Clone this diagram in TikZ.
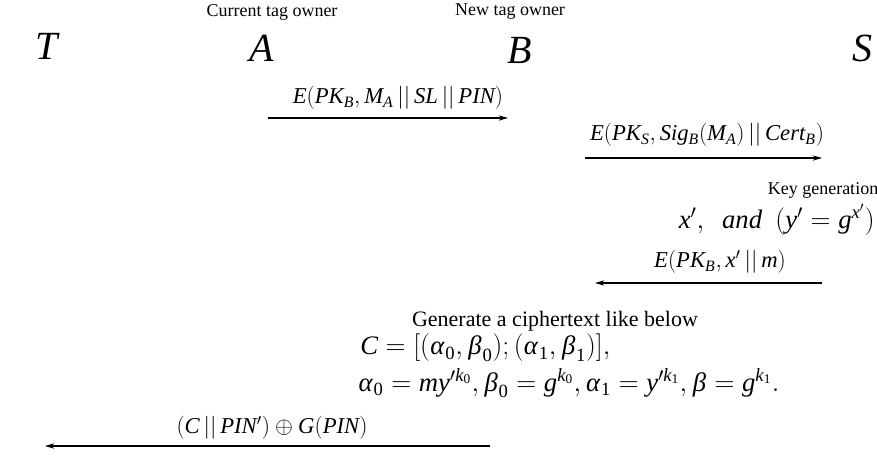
\documentclass[tikz,border=0pt]{standalone}
\usepackage{mathspec}
\setmainfont{Liberation Serif}
\setmathsfont(Digits,Latin,Greek){Liberation Serif}
\usetikzlibrary{arrows.meta}
\begin{document}
\begin{tikzpicture}[x=0.75pt,y=-0.75pt]
\tikzstyle{every node}+=[inner sep=0pt]
\tikzstyle{party}=[font=\fontsize{30}{36}\selectfont]
\tikzstyle{role}=[font=\fontsize{13.5}{16}\selectfont]
\tikzstyle{msg}=[font=\fontsize{17}{20}\selectfont]
\tikzstyle{formula}=[font=\fontsize{20}{24}\selectfont]
\tikzstyle{flow}=[black, line width=0.8pt, -{Stealth[length=7pt,width=4pt]}]
\useasboundingbox (0,0) rectangle (877,463);
% parties
\node [role] (curowner) at (272,12) {Current tag owner};
\node [role] (newowner) at (510,12) {New tag owner};
\node [party] (tag) at (47,46) {$T$};
\node [party] (ownA) at (262,48) {$A$};
\node [party] (ownB) at (520,50) {$B$};
\node [party] (srv) at (862,48) {$S$};
% A -> B
\coordinate (m1s) at (268,118);
\coordinate (m1e) at (508,118);
\draw [flow] (m1s) -- (m1e);
\node [msg] (m1lbl) at (398,98) {$E(PK_B, M_A\,||\,SL\,||\,PIN)$};
% B -> S
\coordinate (m2s) at (585,158);
\coordinate (m2e) at (822,158);
\draw [flow] (m2s) -- (m2e);
\node [msg] (m2lbl) at (707,135) {$E(PK_S, Sig_B(M_A)\,||\,Cert_B)$};
% key generation at S
\node [role] (keygen) at (823,190) {Key generation};
\node [formula, anchor=east] (keypair) at (875,220) {$x',\ \ and\ \ (y' = g^{x'})$};
% S -> B
\coordinate (m3s) at (822,283);
\coordinate (m3e) at (595,283);
\draw [flow] (m3s) -- (m3e);
\node [msg] (m3lbl) at (720,262) {$E(PK_B, x'\,||\,m)$};
% ciphertext at B
\node [font=\fontsize{16.5}{20}\selectfont] (gencipher) at (555,321) {Generate a ciphertext like below};
\node [formula, anchor=west] (cdef) at (360,348) {$C = [(\alpha_0, \beta_0); (\alpha_1, \beta_1)],$};
\node [formula, anchor=west] (cparts) at (358,383) {$\alpha_0 = m y'^{k_0}, \beta_0 = g^{k_0}, \alpha_1 = y'^{k_1}, \beta = g^{k_1}.$};
% B -> T
\coordinate (m4s) at (490,446);
\coordinate (m4e) at (45,446);
\draw [flow] (m4s) -- (m4e);
\node [msg] (m4lbl) at (272,428) {$(C\,||\,PIN')\oplus G(PIN)$};
\end{tikzpicture}
\end{document}
